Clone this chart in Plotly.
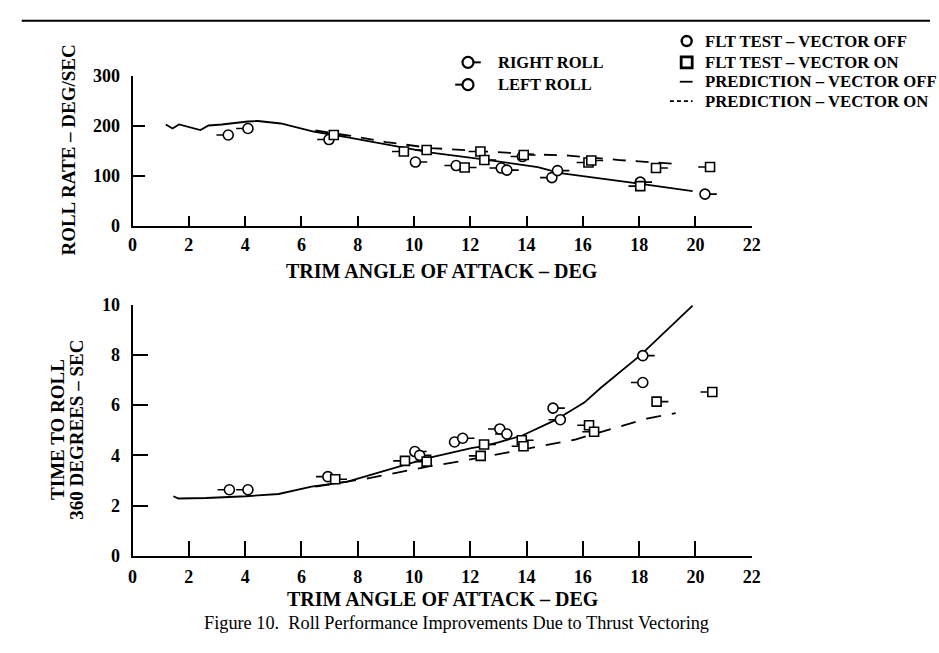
import plotly.graph_objects as go

W, H = 939, 653

# ---------------- data ----------------
alpha_ticks = [0, 2, 4, 6, 8, 10, 12, 14, 16, 18, 20, 22]
rate_ticks = [0, 100, 200, 300]
time_ticks = [0, 2, 4, 6, 8, 10]

# Roll rate - prediction, vector off (solid)
rr_pred_off_x = [1.18, 1.42, 1.65, 2.12, 2.41, 2.70, 3.17, 4.10, 4.45, 5.27, 6.43, 7.7, 9.4, 10.6, 12.4, 14.4, 15.2, 16.7, 18.0, 19.9]
rr_pred_off_y = [203, 195, 203, 197, 192, 201, 203, 209, 210, 205, 189, 177, 160, 147, 134, 118, 106, 94, 85, 70]
# Roll rate - prediction, vector on (dashed)
rr_pred_on_x = [6.5, 7.8, 9.0, 10.6, 12.6, 14.4, 15.5, 17.3, 19.4]
rr_pred_on_y = [191, 180, 168, 156, 149, 143, 141, 132, 124]

# Roll rate - flight test points
rr_off_x = [3.4, 4.1, 6.98, 10.05, 11.5, 13.1, 13.3, 13.85, 14.9, 15.1, 18.04, 20.34]
rr_off_y = [182, 195, 173, 128, 121, 116, 112, 139, 97, 111, 88, 64]
rr_off_side = ["L", "L", "L", "R", "L", "L", "R", "L", "L", "R", "R", "R"]
rr_on_x = [7.15, 9.64, 10.45, 11.8, 12.36, 12.5, 13.9, 16.2, 16.3, 18.04, 18.6, 20.52]
rr_on_y = [182, 149, 152, 117, 149, 132, 142, 127, 131, 80, 116, 118]
rr_on_side = ["R", "L", "L", "R", "L", "R", "R", "L", "R", "L", "R", "L"]

# Time to roll 360 deg - prediction, vector off (solid)
tr_pred_off_x = [1.45, 1.63, 2.62, 4.02, 5.19, 6.36, 7.64, 8.81, 9.74, 10.56, 12.08, 12.43, 13.0, 13.83, 15.0, 16.05, 16.63, 18.03, 19.9]
tr_pred_off_y = [2.37, 2.28, 2.30, 2.37, 2.46, 2.75, 2.95, 3.33, 3.65, 3.91, 4.30, 4.36, 4.52, 4.78, 5.39, 6.10, 6.68, 7.97, 9.96]
# Time to roll - prediction, vector on (dashed)
tr_pred_on_x = [6.5, 8.45, 9.5, 10.68, 11.6, 12.78, 14.4, 15.7, 16.87, 18.27, 19.3]
tr_pred_on_y = [2.75, 3.10, 3.33, 3.59, 3.75, 4.00, 4.36, 4.62, 5.00, 5.46, 5.68]

# Time to roll - flight test points
tr_off_x = [3.44, 4.1, 6.94, 10.03, 10.2, 11.44, 11.73, 13.05, 13.3, 14.94, 15.2, 18.13, 18.13, 20.43]
tr_off_y = [2.63, 2.63, 3.15, 4.15, 4.0, 4.53, 4.68, 5.05, 4.85, 5.88, 5.42, 7.97, 6.9, 10.35]
tr_off_side = ["L", "L", "L", "R", "R", "R", "R", "L", "L", "R", "L", "R", "L", "R"]
tr_on_x = [7.2, 9.68, 10.45, 12.37, 12.49, 13.83, 13.89, 16.22, 16.4, 18.62, 20.6]
tr_on_y = [3.05, 3.78, 3.75, 3.98, 4.43, 4.6, 4.36, 5.2, 4.94, 6.14, 6.52]
tr_on_side = ["R", "L", "L", "L", "R", "R", "L", "L", "L", "R", "L"]

legend_left = ["RIGHT ROLL", "LEFT ROLL"]
legend_right = ["FLT TEST \u2013 VECTOR OFF", "FLT TEST \u2013 VECTOR ON",
                "PREDICTION \u2013 VECTOR OFF", "PREDICTION \u2013 VECTOR ON"]

# ---------------- styling ----------------
SERIF = "Liberation Serif"
TAIL = 0.42  # length of roll-direction flag in deg


def px_x(p):
    return p / W


def px_y(p):
    return 1 - p / H


fig = go.Figure()


def add_points(x, y, side, symbol, size, xa, ya):
    plus = [TAIL if s == "R" else 0 for s in side]
    minus = [TAIL if s == "L" else 0 for s in side]
    fig.add_trace(go.Scatter(
        x=x, y=y, mode="markers", xaxis=xa, yaxis=ya, showlegend=False,
        marker=dict(symbol=symbol, size=size, color="white",
                    line=dict(color="black", width=1.6)),
        error_x=dict(type="data", symmetric=False, array=plus, arrayminus=minus,
                     color="black", thickness=1.6, width=0),
    ))


# top panel
fig.add_trace(go.Scatter(x=rr_pred_off_x, y=rr_pred_off_y, mode="lines", xaxis="x", yaxis="y",
                         line=dict(color="black", width=1.8), showlegend=False))
fig.add_trace(go.Scatter(x=rr_pred_on_x, y=rr_pred_on_y, mode="lines", xaxis="x", yaxis="y",
                         line=dict(color="black", width=1.8, dash="13px,10px"), showlegend=False))
add_points(rr_off_x, rr_off_y, rr_off_side, "circle", 10, "x", "y")
add_points(rr_on_x, rr_on_y, rr_on_side, "square", 9, "x", "y")

# bottom panel
fig.add_trace(go.Scatter(x=tr_pred_off_x, y=tr_pred_off_y, mode="lines", xaxis="x2", yaxis="y2",
                         line=dict(color="black", width=1.8), showlegend=False))
fig.add_trace(go.Scatter(x=tr_pred_on_x, y=tr_pred_on_y, mode="lines", xaxis="x2", yaxis="y2",
                         line=dict(color="black", width=1.8, dash="15px,11px"), showlegend=False))
add_points(tr_off_x, tr_off_y, tr_off_side, "circle", 10, "x2", "y2")
add_points(tr_on_x, tr_on_y, tr_on_side, "square", 9, "x2", "y2")

# legend graphics on a pixel overlay axis
fig.add_trace(go.Scatter(x=[470, 470], y=[54, 77], mode="markers", xaxis="x3", yaxis="y3",
                         showlegend=False,
                         marker=dict(symbol="circle", size=11, color="white",
                                     line=dict(color="black", width=2.2)),
                         error_x=dict(type="data", symmetric=False, array=[13, 0], arrayminus=[0, 13],
                                      color="black", thickness=2, width=0)))
fig.add_trace(go.Scatter(x=[692], y=[32], mode="markers", xaxis="x3", yaxis="y3", showlegend=False,
                         marker=dict(symbol="circle-open", size=10, color="black",
                                     line=dict(color="black", width=2.4))))
fig.add_trace(go.Scatter(x=[692], y=[54], mode="markers", xaxis="x3", yaxis="y3", showlegend=False,
                         marker=dict(symbol="square-open", size=11, color="black",
                                     line=dict(color="black", width=2.8))))
fig.add_trace(go.Scatter(x=[685, 698], y=[74, 74], mode="lines", xaxis="x3", yaxis="y3",
                         showlegend=False, line=dict(color="black", width=1.8)))
fig.add_trace(go.Scatter(x=[675, 698], y=[94, 94], mode="lines", xaxis="x3", yaxis="y3",
                         showlegend=False, line=dict(color="black", width=1.8, dash="4px,3px")))

tickfont = dict(family=SERIF, size=18, color="black", weight="bold")
x_dom = [px_x(129.5), px_x(758)]
common_x = dict(range=[0, 22], tickvals=alpha_ticks, showline=True, linecolor="black", linewidth=2,
                ticks="inside", tickwidth=2, tickcolor="black", showgrid=False, zeroline=False,
                tickfont=tickfont, fixedrange=True)
common_y = dict(showline=True, linecolor="black", linewidth=2, ticks="inside", tickwidth=2,
                tickcolor="black", showgrid=False, zeroline=False, tickfont=tickfont, fixedrange=True)

fig.update_layout(
    width=W, height=H, margin=dict(l=0, r=0, t=0, b=0),
    paper_bgcolor="white", plot_bgcolor="rgba(0,0,0,0)",
    xaxis=dict(domain=x_dom, anchor="y", ticklen=10, ticklabelstandoff=1, **common_x),
    yaxis=dict(domain=[px_y(223), px_y(68)], anchor="x", range=[0, 300], tickvals=rate_ticks,
               ticklen=12, ticklabelstandoff=7, **common_y),
    xaxis2=dict(domain=x_dom, anchor="y2", ticklen=15, ticklabelstandoff=4, **common_x),
    yaxis2=dict(domain=[px_y(563), px_y(304)], anchor="x2", range=[0, 10], tickvals=time_ticks,
                ticklen=15, ticklabelstandoff=7, **common_y),
    xaxis3=dict(domain=[0, 1], range=[0, W], visible=False, fixedrange=True, anchor="y3"),
    yaxis3=dict(domain=[0, 1], range=[H, 0], visible=False, fixedrange=True, anchor="x3"),
)

bold = lambda s: dict(family=SERIF, size=s, color="black", weight="bold")
ann = []
ann.append(dict(x=px_x(444), y=px_y(269), text="TRIM ANGLE OF ATTACK \u2013 DEG", font=bold(20)))
ann.append(dict(x=px_x(445), y=px_y(608), text="TRIM ANGLE OF ATTACK \u2013 DEG", font=bold(20)))
ann.append(dict(x=px_x(65), y=px_y(145), text="ROLL RATE \u2013 DEG/SEC", textangle=-90, font=bold(19)))
ann.append(dict(x=px_x(54), y=px_y(433), text="TIME TO ROLL", textangle=-90, font=bold(19)))
ann.append(dict(x=px_x(73), y=px_y(433), text="360 DEGREES \u2013 SEC", textangle=-90, font=bold(19)))
for i, t in enumerate(legend_left):
    ann.append(dict(x=px_x(498), y=px_y([54, 77][i]), text=t, xanchor="left", font=bold(16.5)))
for i, t in enumerate(legend_right):
    ann.append(dict(x=px_x(709), y=px_y([32, 54, 74, 94][i]), text=t, xanchor="left", font=bold(16.7)))
ann.append(dict(x=px_x(458), y=px_y(632),
                text="Figure 10.\u00a0 Roll Performance Improvements Due to Thrust Vectoring",
                font=dict(family=SERIF, size=18.3, color="black")))
for a in ann:
    a.update(xref="paper", yref="paper", showarrow=False)
    a.setdefault("xanchor", "center")
    a.setdefault("yanchor", "middle")
fig.update_layout(annotations=ann)

fig.add_shape(type="line", xref="paper", yref="paper", x0=px_x(17), x1=1, y0=px_y(11), y1=px_y(11),
              line=dict(color="black", width=2))

fig.write_html("out.html")
